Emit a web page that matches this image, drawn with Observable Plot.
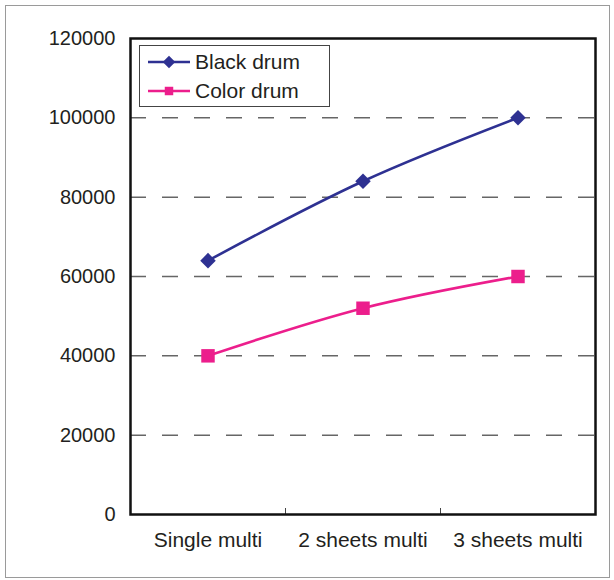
<!DOCTYPE html>
<html>
<head>
<meta charset="utf-8">
<script src="https://cdn.jsdelivr.net/npm/d3@7"></script>
<script src="https://cdn.jsdelivr.net/npm/@observablehq/plot@0.6"></script>
<style>
  html, body { margin: 0; padding: 0; background: #fff; }
  #wrap { position: relative; width: 614px; height: 580px; font-family: "Liberation Sans", Arial, Helvetica, sans-serif; }
  #border { position: absolute; left: 5px; top: 5px; width: 603px; height: 571px; border: 1.5px solid #9a9a9a; pointer-events: none; }
  #legend { position: absolute; left: 139px; top: 45px; width: 189px; height: 60px; border: 1.2px solid #444; background: #fff; }
  .row { position: absolute; left: 0; height: 28px; display: flex; align-items: center; font-size: 21px; color: #231f20; }
  .row svg { display: block; margin-left: 8px; margin-right: 5px; }
</style>
</head>
<body>
<div id="wrap"><div id="border"></div></div>
<script>
const categories = ["Single multi", "2 sheets multi", "3 sheets multi"];
const seriesNames = ["Black drum", "Color drum"];
const blackDrum = [64000, 84000, 100000];
const colorDrum = [40000, 52000, 60000];
const yTicks = [0, 20000, 40000, 60000, 80000, 100000, 120000];
const gridValues = [20000, 40000, 60000, 80000, 100000];
const colors = ["#2e3192", "#ec1e8c"];
const symbols = ["diamond2", "square"];

const data = [];
categories.forEach((c, i) => {
  data.push({series: seriesNames[0], i, value: blackDrum[i]});
  data.push({series: seriesNames[1], i, value: colorDrum[i]});
});
const boundaries = categories.slice(1).map((_, k) => k + 0.5);

const chart = Plot.plot({
  width: 614,
  height: 580,
  marginLeft: 130,
  marginRight: 19,
  marginTop: 38,
  marginBottom: 66,
  style: {fontFamily: '"Liberation Sans", Arial, Helvetica, sans-serif', fontSize: "20px", color: "#231f20", background: "transparent"},
  x: {domain: [-0.5, categories.length - 0.5]},
  y: {domain: [0, 120000]},
  color: {domain: seriesNames, range: colors},
  symbol: {domain: seriesNames, range: symbols},
  marks: [
    Plot.ruleY(gridValues, {stroke: "#666", strokeWidth: 1.5, strokeDasharray: "16,16"}),
    Plot.axisY({ticks: yTicks, tickSize: 0, tickPadding: 15, tickFormat: d => String(d), fontSize: 20, label: null}),
    Plot.axisX({ticks: categories.map((_, i) => i), tickSize: 0, tickPadding: 18, tickFormat: i => categories[i], fontSize: 21, label: null}),
    Plot.ruleX(boundaries, {y1: 0, y2: 0, insetTop: -6, stroke: "#444", strokeWidth: 1}),
    Plot.line(data, {x: "i", y: "value", stroke: "series", strokeWidth: 2.6, curve: "catmull-rom"}),
    Plot.dot(data.filter(d => d.series === seriesNames[0]), {x: "i", y: "value", symbol: "series", fill: "series", r: 7, stroke: "none"}),
    Plot.dot(data.filter(d => d.series === seriesNames[1]), {x: "i", y: "value", symbol: "series", fill: "series", r: 7.6, stroke: "none"}),
    Plot.frame({stroke: "#111", strokeWidth: 2.5})
  ]
});
document.getElementById("wrap").appendChild(chart);

// legend
const legend = document.createElement("div");
legend.id = "legend";
seriesNames.forEach((name, k) => {
  const row = document.createElement("div");
  row.className = "row";
  row.style.top = (2 + k * 29) + "px";
  const svg = d3.create("svg").attr("width", 42).attr("height", 16);
  svg.append("line").attr("x1", 0).attr("x2", 42).attr("y1", 8).attr("y2", 8).attr("stroke", colors[k]).attr("stroke-width", 2.4);
  const sym = k === 0 ? d3.symbolDiamond2 : d3.symbolSquare;
  svg.append("path").attr("transform", "translate(21,8)").attr("d", d3.symbol(sym, k === 0 ? 100 : 72)()).attr("fill", colors[k]);
  row.appendChild(svg.node());
  const t = document.createElement("span");
  t.textContent = name;
  row.appendChild(t);
  legend.appendChild(row);
});
document.getElementById("wrap").appendChild(legend);
</script>
</body>
</html>
